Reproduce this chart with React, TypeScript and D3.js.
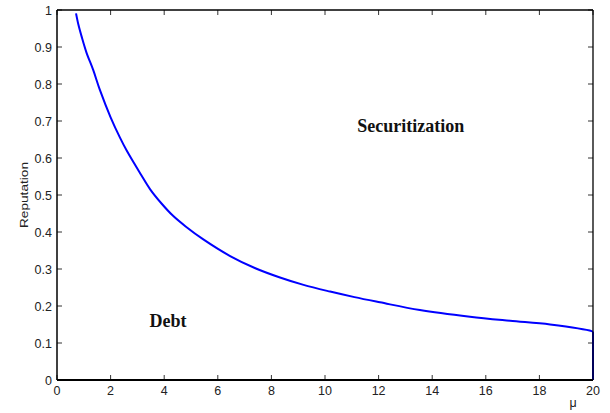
import React from "react";
import * as d3 from "d3";

// Threshold reputation as a function of mu
const mu = [0.71, 0.8, 0.92, 1.1, 1.35, 1.6, 2.0, 2.35, 2.6, 3.1, 3.47, 3.9, 4.34, 4.8, 5.46, 6.46, 7.4, 8.32, 9.2, 10.19, 11.1, 12.05, 13.54, 15.41, 16.9, 18.4, 19.95, 20, 20];
const reputation = [0.991, 0.96, 0.928, 0.885, 0.838, 0.784, 0.71, 0.655, 0.62, 0.559, 0.516, 0.477, 0.443, 0.415, 0.38, 0.335, 0.302, 0.277, 0.257, 0.239, 0.224, 0.21, 0.189, 0.171, 0.16, 0.15, 0.132, 0.13, 0];

const xTicks = [0, 2, 4, 6, 8, 10, 12, 14, 16, 18, 20];
const yTicks = [0, 0.1, 0.2, 0.3, 0.4, 0.5, 0.6, 0.7, 0.8, 0.9, 1];

const regionLabels = [
  { text: "Securitization", x: 13.2, y: 0.67 },
  { text: "Debt", x: 4.14, y: 0.143 },
];

const W = 610;
const H = 413;
const L = 57, R = 593, T = 10, B = 380;

export default function App() {
  const x = d3.scaleLinear().domain([0, 20]).range([L, R]);
  const y = d3.scaleLinear().domain([0, 1]).range([B, T]);
  const pts = mu.map((m, i) => [m, reputation[i]] as [number, number]);
  // smooth boundary curve, then the vertical drop at the right edge
  const smoothPart = pts.filter((d, i) => i < pts.length - 1);
  const dropPart = pts.slice(pts.length - 2);
  const smooth = d3
    .line<[number, number]>()
    .x((d) => x(d[0]))
    .y((d) => y(d[1]))
    .curve(d3.curveCatmullRom.alpha(0.5));
  const straight = d3.line<[number, number]>().x((d) => x(d[0])).y((d) => y(d[1]));
  const font = "Arial, 'Liberation Sans', Helvetica, sans-serif";
  const tick = 5;

  return (
    <svg width={W} height={H} style={{ position: "absolute", left: 0, top: 0, background: "#fff" }}>
      <rect x={0} y={0} width={W} height={H} fill="#fff" />
      {/* ticks on all four sides, pointing inward */}
      <g stroke="#333" strokeWidth={1}>
        {xTicks.map((t) => (
          <g key={"xt" + t}>
            <line x1={x(t)} x2={x(t)} y1={B} y2={B - tick} />
            <line x1={x(t)} x2={x(t)} y1={T} y2={T + tick} />
          </g>
        ))}
        {yTicks.map((t) => (
          <g key={"yt" + t}>
            <line x1={L} x2={L + tick} y1={y(t)} y2={y(t)} />
            <line x1={R} x2={R - tick} y1={y(t)} y2={y(t)} />
          </g>
        ))}
      </g>
      <g fill="none" stroke="#0000ff" strokeWidth={2} strokeLinejoin="round">
        <path d={smooth(smoothPart) || ""} />
        <path d={straight(dropPart) || ""} />
      </g>
      {/* axes box */}
      <g stroke="#000" fill="none">
        <line x1={L} x2={R} y1={T} y2={T} strokeWidth={1.3} />
        <line x1={R} x2={R} y1={T} y2={B} strokeWidth={1.3} />
        <line x1={L} x2={L} y1={T} y2={B} strokeWidth={1.5} />
        <line x1={L} x2={R} y1={B} y2={B} strokeWidth={2} />
      </g>
      <g fontFamily={font} fontSize={12.5} fill="#222">
        {xTicks.map((t) => (
          <text key={"xl" + t} x={x(t)} y={395} textAnchor="middle">
            {t}
          </text>
        ))}
        {yTicks.map((t) => (
          <text key={"yl" + t} x={52} y={y(t) + 4.5} textAnchor="end">
            {t}
          </text>
        ))}
        <text x={573} y={407} textAnchor="middle">μ</text>
        <text
          transform={`translate(28,195) rotate(-90)`}
          textAnchor="middle"
          fontSize={11}
          textLength={66}
          lengthAdjust="spacingAndGlyphs"
        >
          Reputation
        </text>
      </g>
      <g fontFamily="'Liberation Serif', 'Times New Roman', serif" fontWeight="bold" fontSize={18} fill="#111">
        {regionLabels.map((l) => (
          <text key={l.text} x={x(l.x)} y={y(l.y)} textAnchor="middle">
            {l.text}
          </text>
        ))}
      </g>
    </svg>
  );
}
